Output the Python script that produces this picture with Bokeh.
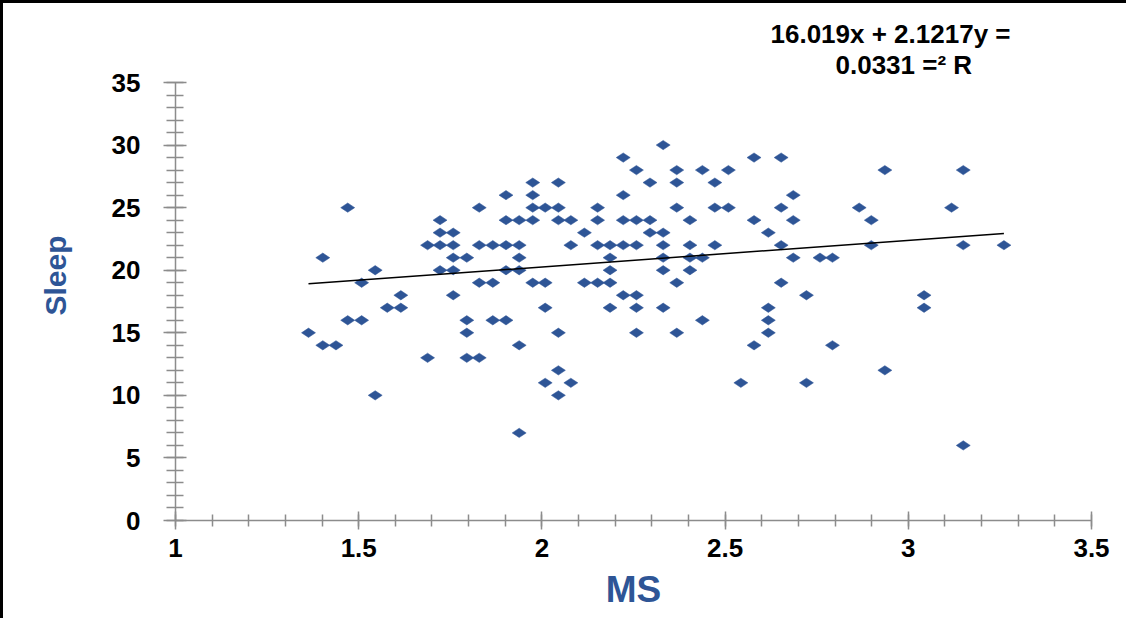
import numpy as np
from bokeh.plotting import figure
from bokeh.models import Range1d, FixedTicker, Title
from bokeh.embed import file_html
from bokeh.resources import INLINE

# --- data ---
ms = [1.363,
      1.402, 1.402,
      1.438,
      1.470, 1.470,
      1.508, 1.508,
      1.545, 1.545,
      1.578,
      1.615, 1.615,
      1.688, 1.688,
      1.722, 1.722, 1.722, 1.722,
      1.758, 1.758, 1.758, 1.758, 1.758,
      1.795, 1.795, 1.795, 1.795,
      1.829, 1.829, 1.829, 1.829,
      1.866, 1.866, 1.866,
      1.902, 1.902, 1.902, 1.902, 1.902,
      1.938, 1.938, 1.938, 1.938, 1.938, 1.938,
      1.975, 1.975, 1.975, 1.975, 1.975,
      2.009, 2.009, 2.009, 2.009,
      2.045, 2.045, 2.045, 2.045, 2.045, 2.045,
      2.079, 2.079, 2.079,
      2.116, 2.116,
      2.152, 2.152, 2.152, 2.152,
      2.186, 2.186, 2.186, 2.186, 2.186,
      2.222, 2.222, 2.222, 2.222, 2.222,
      2.258, 2.258, 2.258, 2.258, 2.258, 2.258,
      2.295, 2.295, 2.295,
      2.331, 2.331, 2.331, 2.331, 2.331, 2.331,
      2.368, 2.368, 2.368, 2.368, 2.368,
      2.404, 2.404, 2.404, 2.404,
      2.438, 2.438, 2.438,
      2.472, 2.472, 2.472,
      2.509, 2.509,
      2.543,
      2.579, 2.579, 2.579,
      2.618, 2.618, 2.618, 2.618,
      2.653, 2.653, 2.653, 2.653,
      2.686, 2.686, 2.686,
      2.722, 2.722,
      2.759,
      2.793, 2.793,
      2.866,
      2.899, 2.899,
      2.936, 2.936,
      3.043, 3.043,
      3.118,
      3.150, 3.150, 3.150,
      3.261]

sleep = [15,
         14, 21,
         14,
         25, 16,
         16, 19,
         20, 10,
         17,
         17, 18,
         13, 22,
         22, 23, 24, 20,
         22, 23, 20, 21, 18,
         21, 16, 15, 13,
         13, 25, 22, 19,
         22, 19, 16,
         16, 22, 24, 26, 20,
         22, 24, 21, 20, 14, 7,
         24, 26, 27, 25, 19,
         25, 19, 17, 11,
         27, 25, 24, 15, 12, 10,
         24, 22, 11,
         23, 19,
         25, 24, 22, 19,
         22, 21, 20, 19, 17,
         29, 26, 24, 22, 18,
         28, 24, 22, 18, 17, 15,
         27, 24, 23,
         30, 23, 22, 21, 20, 17,
         28, 27, 25, 19, 15,
         24, 22, 21, 20,
         28, 21, 16,
         27, 25, 22,
         28, 25,
         11,
         29, 24, 14,
         23, 17, 16, 15,
         29, 25, 22, 19,
         26, 24, 21,
         18, 11,
         21,
         21, 14,
         25,
         24, 22,
         28, 12,
         18, 17,
         25,
         28, 22, 6,
         22]

x_ticks = [1, 1.5, 2, 2.5, 3, 3.5]
x_tick_labels = ["1", "1.5", "2", "2.5", "3", "3.5"]
y_ticks = [0, 5, 10, 15, 20, 25, 30, 35]
trend_slope = 2.1217
trend_intercept = 16.019
eq_line1 = "16.019x + 2.1217y ="
eq_line2 = "0.0331 =\u00b2 R"
x_title = "MS"
y_title = "Sleep"

BLUE = "#2E5596"
AXIS_GRAY = "#8C8C8C"
FONT = "Liberation Sans"

p = figure(width=1126, height=618, output_backend="svg", toolbar_location=None,
           title=None,
           x_range=Range1d(1, 3.5), y_range=Range1d(0, 35),
           min_border_left=171, min_border_right=38,
           min_border_top=79, min_border_bottom=101)
p.styles = {"border-top": "3px solid black", "border-left": "3px solid black"}
p.grid.visible = False
p.outline_line_color = None
p.background_fill_color = "white"
p.border_fill_color = "white"

# axes
p.xaxis.ticker = FixedTicker(ticks=x_ticks,
                             minor_ticks=[round(1 + 0.1 * i, 1) for i in range(26)])
p.yaxis.ticker = FixedTicker(ticks=y_ticks, minor_ticks=list(range(36)))
p.xaxis.major_label_overrides = {t: l for t, l in zip(x_ticks, x_tick_labels)}

for ax in (p.xaxis[0], p.yaxis[0]):
    ax.axis_line_color = AXIS_GRAY
    ax.axis_line_width = 1.5
    ax.major_tick_line_color = AXIS_GRAY
    ax.major_tick_line_width = 1.5
    ax.minor_tick_line_color = AXIS_GRAY
    ax.minor_tick_line_width = 1.5
    ax.major_label_text_font = FONT
    ax.major_label_text_font_style = "bold"
    ax.major_label_text_font_size = "26px"
    ax.major_label_text_color = "black"

p.xaxis.major_tick_in = 9
p.xaxis.major_tick_out = 9
p.xaxis.minor_tick_in = 6
p.xaxis.minor_tick_out = 6
p.xaxis.major_label_standoff = 9
p.xaxis.axis_label = x_title
p.xaxis.axis_label_standoff = 9
p.xaxis.axis_label_text_font = FONT
p.xaxis.axis_label_text_font_style = "bold"
p.xaxis.axis_label_text_font_size = "37px"
p.xaxis.axis_label_text_color = BLUE

p.yaxis.major_tick_in = 11
p.yaxis.major_tick_out = 12
p.yaxis.minor_tick_in = 8
p.yaxis.minor_tick_out = 9
p.yaxis.major_label_standoff = 23

# scatter
p.scatter(x=ms, y=sleep, marker="diamond", size=14, angle=np.pi / 2,
          fill_color=BLUE, line_color=BLUE, line_width=0.5)

# trend line
x0, x1 = min(ms), max(ms)
p.line(x=[x0, x1], y=[trend_intercept + trend_slope * x0, trend_intercept + trend_slope * x1],
       line_color="black", line_width=1.5)

# equation (two lines above the plot area)
t2 = Title(text=eq_line2, align="left", offset=660, vertical_align="top", standoff=2,
           text_font=FONT, text_font_style="bold", text_font_size="26px", text_color="black")
t1 = Title(text=eq_line1, align="left", offset=595, vertical_align="bottom", standoff=0,
           text_font=FONT, text_font_style="bold", text_font_size="26px", text_color="black")
p.add_layout(t2, "above")
p.add_layout(t1, "above")

# y title
ty = Title(text=y_title, align="left", offset=205, vertical_align="top", standoff=70,
           text_font=FONT, text_font_style="bold", text_font_size="30px", text_color=BLUE)
p.add_layout(ty, "left")

open("out.html", "w").write(file_html(p, INLINE))
